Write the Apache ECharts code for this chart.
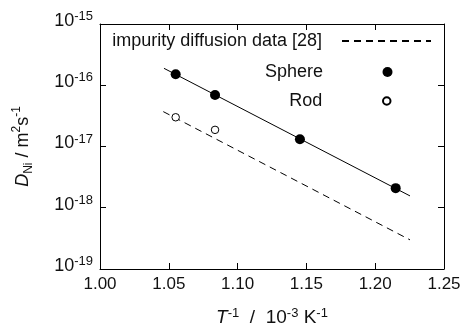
<!DOCTYPE html>
<html><head><meta charset="utf-8">
<script src="https://cdn.jsdelivr.net/npm/echarts@6/dist/echarts.min.js"></script>
<style>html,body{margin:0;padding:0;background:#fff}#c{width:463px;height:328px}</style>
</head><body><div id="c"></div>
<script>
// ---- data ----
const xTickLabels = ['1.00', '1.05', '1.10', '1.15', '1.20', '1.25'];
const yTickExponents = [-19, -18, -17, -16, -15];

const sphereX = [1.055, 1.0836, 1.1453, 1.2149];
const sphereY = [1.51e-16, 6.95e-17, 1.31e-17, 2.09e-18];

const rodX = [1.055, 1.0836];
const rodY = [3.0e-17, 1.87e-17];

const fitX = [1.0465, 1.2253];
const fitY = [1.89e-16, 1.56e-18];

const impurityX = [1.046, 1.2253];
const impurityY = [3.71e-17, 2.99e-19];

const seriesNames = ['impurity diffusion data [28]', 'Sphere', 'Rod'];

const zip = (xs, ys) => xs.map((x, i) => [x, ys[i]]);
const FONT = '"Liberation Sans", Arial, Helvetica, sans-serif';

const chart = echarts.init(document.getElementById('c'), null, {renderer: 'canvas'});

const baseAxisLine = {show: true, lineStyle: {color: '#000', width: 1}};
const baseTick = {show: true, inside: true, length: 6, lineStyle: {color: '#000', width: 1}};

const legendCommon = {
  orient: 'horizontal', align: 'right', padding: 0,
  itemWidth: 89, selectedMode: false,
  textStyle: {fontFamily: FONT, fontSize: 18, color: '#111', padding: [0, 15, 0, 0]}
};

const option = {
  animation: false,
  backgroundColor: '#fff',
  grid: {left: 100, right: 19, top: 24, bottom: 59, containLabel: false, outerBoundsMode: 'none'},
  xAxis: [{
    type: 'value', min: 1.00, max: 1.25, interval: 0.05, position: 'bottom',
    axisLine: baseAxisLine, axisTick: baseTick, splitLine: {show: false},
    axisLabel: {
      margin: 7, fontFamily: FONT, fontSize: 17, color: '#111',
      formatter: (v) => {
        const i = Math.round((v - 1.00) / 0.05);
        return xTickLabels[i] !== undefined ? xTickLabels[i] : '';
      }
    },
    name: '{i|T}{s|-1}{n|  /  10}{s|-3}{n| K}{s|-1}',
    nameLocation: 'middle', nameGap: 38,
    nameTextStyle: {
      fontFamily: FONT, color: '#111',
      rich: {
        i: {fontFamily: FONT, fontSize: 19, fontStyle: 'italic', lineHeight: 22, color: '#111'},
        n: {fontFamily: FONT, fontSize: 19, lineHeight: 22, color: '#111'},
        s: {fontFamily: FONT, fontSize: 13, lineHeight: 13, verticalAlign: 'top', color: '#111'}
      }
    }
  }, {
    type: 'value', min: 1.00, max: 1.25, interval: 0.05, position: 'top',
    axisLine: baseAxisLine, axisTick: baseTick, splitLine: {show: false},
    axisLabel: {show: false}
  }],
  yAxis: [{
    type: 'log', logBase: 10, min: 1e-19, max: 1e-15, position: 'left',
    axisLine: baseAxisLine, axisTick: baseTick, splitLine: {show: false},
    minorTick: {show: false},
    axisLabel: {
      margin: 7, padding: [0, 0, 6, 0],
      formatter: (v) => {
        const e = Math.round(Math.log10(v));
        return yTickExponents.indexOf(e) >= 0 ? '{b|10}{s|' + e + '}' : '';
      },
      rich: {
        b: {fontFamily: FONT, fontSize: 18, lineHeight: 22, color: '#111'},
        s: {fontFamily: FONT, fontSize: 13, lineHeight: 13, verticalAlign: 'top', color: '#111'}
      }
    },
    name: '{i|D}{sub|Ni}{n| / m}{s|2}{n|s}{s|-1}',
    nameLocation: 'middle', nameGap: 65, nameRotate: 90,
    nameTextStyle: {
      fontFamily: FONT, color: '#111',
      rich: {
        i: {fontFamily: FONT, fontSize: 18, fontStyle: 'italic', lineHeight: 24, color: '#111'},
        n: {fontFamily: FONT, fontSize: 18, lineHeight: 24, color: '#111'},
        s: {fontFamily: FONT, fontSize: 12, lineHeight: 12, verticalAlign: 'top', color: '#111'},
        sub: {fontFamily: FONT, fontSize: 12, lineHeight: 12, verticalAlign: 'bottom', color: '#111'}
      }
    }
  }, {
    type: 'log', logBase: 10, min: 1e-19, max: 1e-15, position: 'right',
    axisLine: baseAxisLine, axisTick: baseTick, splitLine: {show: false},
    minorTick: {show: false},
    axisLabel: {show: false}
  }],
  legend: [
    Object.assign({}, legendCommon, {
      top: 32, right: 31, itemHeight: 20, data: [seriesNames[0]],
      itemStyle: {color: 'rgba(0,0,0,0)', borderWidth: 0, opacity: 0}
    }),
    Object.assign({}, legendCommon, {top: 63, right: 70.5, itemHeight: 10, data: [seriesNames[1]]}),
    Object.assign({}, legendCommon, {top: 92, right: 71.5, itemHeight: 7.5, data: [seriesNames[2]]})
  ],
  series: [
    {
      name: 'fit', type: 'line', data: zip(fitX, fitY), symbol: 'none',
      lineStyle: {color: '#000', width: 1}, silent: true, z: 2
    },
    {
      name: seriesNames[0], type: 'line', data: zip(impurityX, impurityY), symbol: 'none',
      itemStyle: {color: '#000'},
      lineStyle: {color: '#000', width: 1, type: [7, 5]}, silent: true, z: 2
    },
    {
      name: seriesNames[1], type: 'scatter', data: zip(sphereX, sphereY),
      symbol: 'circle', symbolSize: 10,
      itemStyle: {color: '#000', opacity: 1}, z: 3
    },
    {
      name: seriesNames[2], type: 'scatter', data: zip(rodX, rodY),
      symbol: 'circle', symbolSize: 7.5,
      itemStyle: {color: '#fff', borderColor: '#000', borderWidth: 1, opacity: 1}, z: 3
    }
  ]
};
chart.setOption(option);
</script>
</body></html>
